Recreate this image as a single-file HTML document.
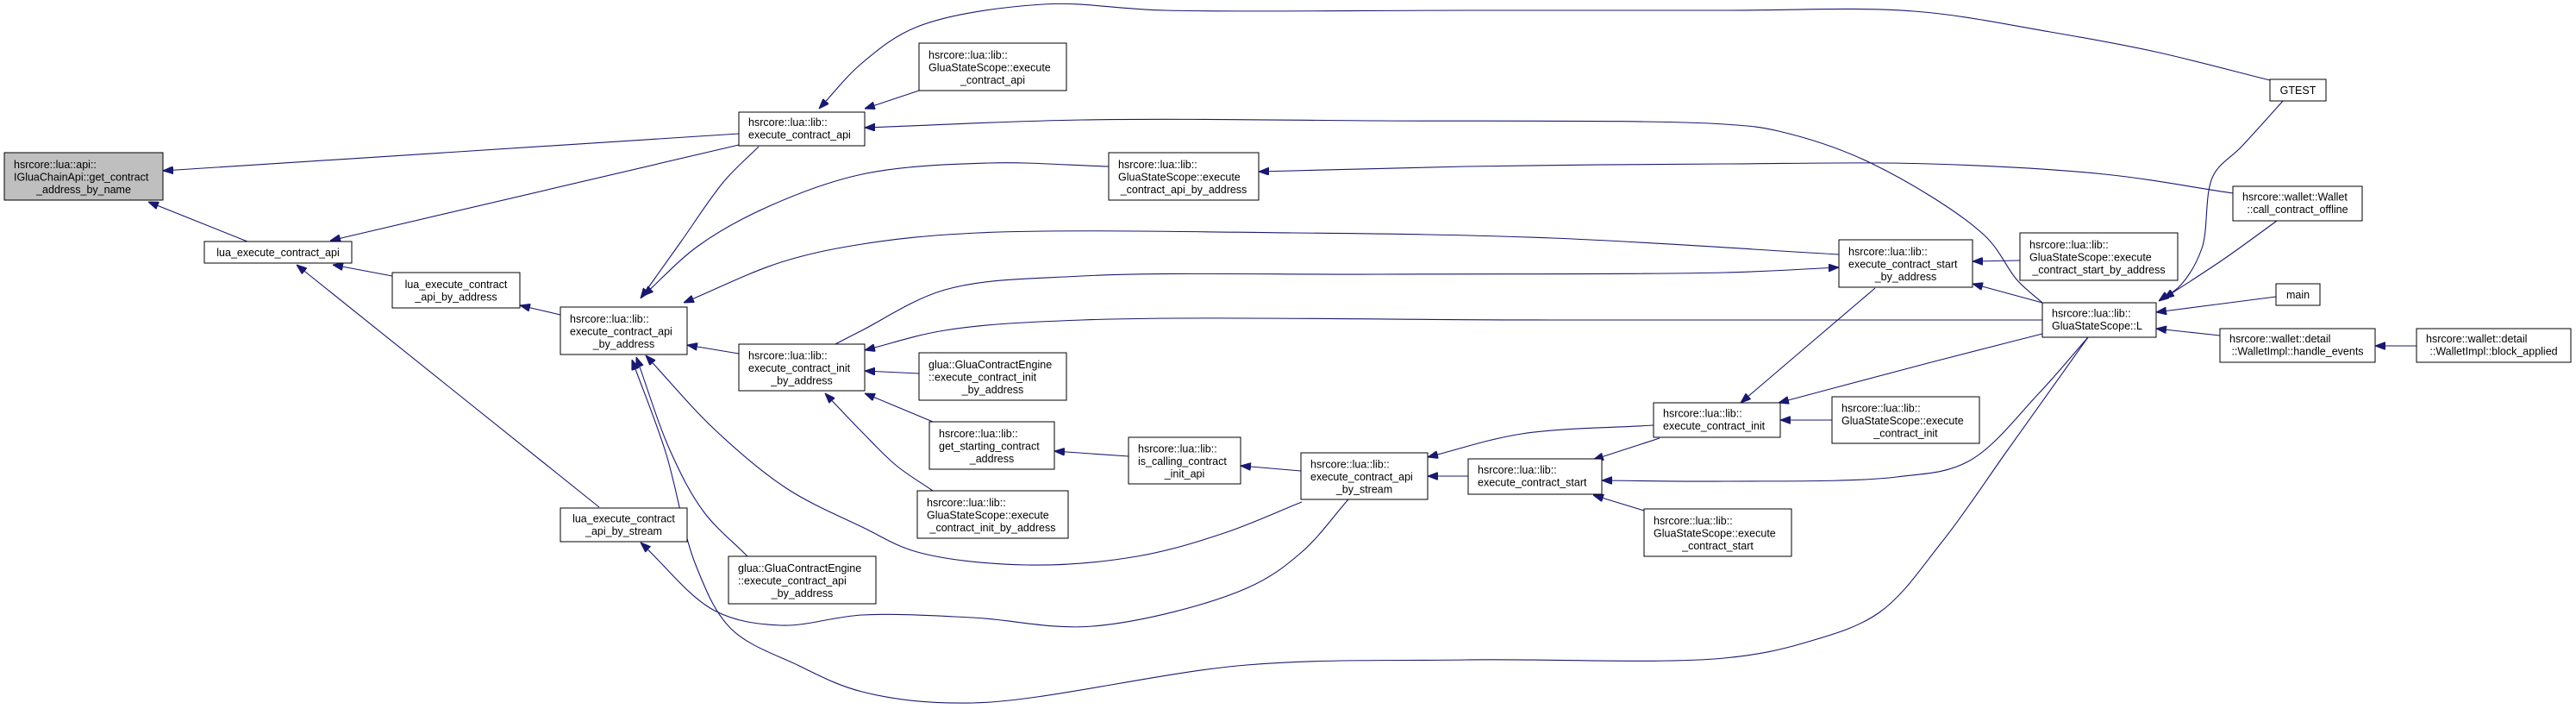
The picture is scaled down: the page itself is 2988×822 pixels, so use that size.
<!DOCTYPE html>
<html><head><meta charset="utf-8"><style>
html,body{margin:0;padding:0;background:#fff;}
svg{display:block}
text{font-family:"Liberation Sans",Arial,sans-serif;font-size:12.5px;fill:#000}
.n{fill:#fff;stroke:#000;stroke-width:1}
.e{fill:none;stroke:#191970;stroke-width:1.1}
</style></head><body>
<svg id="s" width="2988" height="822" viewBox="0 0 2988 822" xmlns="http://www.w3.org/2000/svg">
<defs><marker id="a" markerUnits="userSpaceOnUse" markerWidth="12" markerHeight="9" refX="12" refY="4.5" orient="auto"><path d="M0,0 L12,4.5 L0,9 z" fill="#191970" stroke="#191970"/></marker></defs>
<g id="edges"></g>
<g>
<rect class="n" x="5" y="177" width="184" height="55" style="fill:#bfbfbf"/>
<text x="16" y="195">hsrcore::lua::api::</text><text x="16" y="209.5">IGluaChainApi::get_contract</text><text x="97" y="224" text-anchor="middle">_address_by_name</text>

<rect class="n" x="237" y="280" width="171" height="25"/>
<text x="322.5" y="297" text-anchor="middle">lua_execute_contract_api</text>

<rect class="n" x="455" y="316" width="148" height="41"/>
<text x="529" y="334" text-anchor="middle">lua_execute_contract</text><text x="529" y="348.5" text-anchor="middle">_api_by_address</text>

<rect class="n" x="650" y="356" width="147" height="55"/>
<text x="661" y="374">hsrcore::lua::lib::</text><text x="661" y="388.5">execute_contract_api</text><text x="723.5" y="403" text-anchor="middle">_by_address</text>

<rect class="n" x="857" y="130" width="146" height="39"/>
<text x="868" y="146">hsrcore::lua::lib::</text><text x="868" y="160.5">execute_contract_api</text>

<rect class="n" x="650" y="589" width="147" height="39"/>
<text x="723.5" y="605.5" text-anchor="middle">lua_execute_contract</text><text x="723.5" y="620" text-anchor="middle">_api_by_stream</text>

<rect class="n" x="857" y="399" width="146" height="54"/>
<text x="868" y="416.5">hsrcore::lua::lib::</text><text x="868" y="431">execute_contract_init</text><text x="930" y="445.5" text-anchor="middle">_by_address</text>

<rect class="n" x="845" y="645" width="171" height="55"/>
<text x="856" y="663">glua::GluaContractEngine</text><text x="856" y="677.5">::execute_contract_api</text><text x="930.5" y="692" text-anchor="middle">_by_address</text>

<rect class="n" x="1066" y="50" width="171" height="55"/>
<text x="1077" y="68">hsrcore::lua::lib::</text><text x="1077" y="82.5">GluaStateScope::execute</text><text x="1151.5" y="97" text-anchor="middle">_contract_api</text>

<rect class="n" x="1286" y="177" width="174" height="55"/>
<text x="1297" y="195">hsrcore::lua::lib::</text><text x="1297" y="209.5">GluaStateScope::execute</text><text x="1373" y="224" text-anchor="middle">_contract_api_by_address</text>

<rect class="n" x="1066" y="409" width="171" height="55"/>
<text x="1077" y="427">glua::GluaContractEngine</text><text x="1077" y="441.5">::execute_contract_init</text><text x="1151.5" y="456" text-anchor="middle">_by_address</text>

<rect class="n" x="1078" y="489" width="145" height="55"/>
<text x="1089" y="507">hsrcore::lua::lib::</text><text x="1089" y="521.5">get_starting_contract</text><text x="1150.5" y="536" text-anchor="middle">_address</text>

<rect class="n" x="1064" y="569" width="175" height="55"/>
<text x="1075" y="587">hsrcore::lua::lib::</text><text x="1075" y="601.5">GluaStateScope::execute</text><text x="1151.5" y="616" text-anchor="middle">_contract_init_by_address</text>

<rect class="n" x="1309" y="507" width="130" height="54"/>
<text x="1320" y="524.5">hsrcore::lua::lib::</text><text x="1320" y="539">is_calling_contract</text><text x="1374" y="553.5" text-anchor="middle">_init_api</text>

<rect class="n" x="1509" y="525" width="147" height="54"/>
<text x="1520" y="542.5">hsrcore::lua::lib::</text><text x="1520" y="557">execute_contract_api</text><text x="1582.5" y="571.5" text-anchor="middle">_by_stream</text>

<rect class="n" x="1703" y="532" width="155" height="41"/>
<text x="1714" y="549">hsrcore::lua::lib::</text><text x="1714" y="563.5">execute_contract_start</text>

<rect class="n" x="1918" y="467" width="147" height="40"/>
<text x="1929" y="483.5">hsrcore::lua::lib::</text><text x="1929" y="498">execute_contract_init</text>

<rect class="n" x="1907" y="590" width="171" height="55"/>
<text x="1918" y="608">hsrcore::lua::lib::</text><text x="1918" y="622.5">GluaStateScope::execute</text><text x="1992.5" y="637" text-anchor="middle">_contract_start</text>

<rect class="n" x="2125" y="460" width="171" height="54"/>
<text x="2136" y="477.5">hsrcore::lua::lib::</text><text x="2136" y="492">GluaStateScope::execute</text><text x="2210.5" y="506.5" text-anchor="middle">_contract_init</text>

<rect class="n" x="2133" y="278" width="155" height="55"/>
<text x="2144" y="296">hsrcore::lua::lib::</text><text x="2144" y="310.5">execute_contract_start</text><text x="2210.5" y="325" text-anchor="middle">_by_address</text>

<rect class="n" x="2343" y="270" width="183" height="55"/>
<text x="2354" y="288">hsrcore::lua::lib::</text><text x="2354" y="302.5">GluaStateScope::execute</text><text x="2434.5" y="317" text-anchor="middle">_contract_start_by_address</text>

<rect class="n" x="2369" y="351" width="132" height="40"/>
<text x="2380" y="367.5">hsrcore::lua::lib::</text><text x="2380" y="382">GluaStateScope::L</text>

<rect class="n" x="2633" y="92" width="65" height="25"/>
<text x="2665.5" y="109" text-anchor="middle">GTEST</text>

<rect class="n" x="2590" y="216" width="150" height="40"/>
<text x="2601" y="232.5">hsrcore::wallet::Wallet</text><text x="2665" y="247" text-anchor="middle">::call_contract_offline</text>

<rect class="n" x="2640" y="329" width="51" height="25"/>
<text x="2665.5" y="346" text-anchor="middle">main</text>

<rect class="n" x="2575" y="381" width="180" height="39"/>
<text x="2586" y="397">hsrcore::wallet::detail</text><text x="2665" y="411.5" text-anchor="middle">::WalletImpl::handle_events</text>

<rect class="n" x="2803" y="381" width="179" height="39"/>
<text x="2814" y="397">hsrcore::wallet::detail</text><text x="2892.5" y="411.5" text-anchor="middle">::WalletImpl::block_applied</text>
</g>
</svg>
<script>
var E=[
[[857,155],[189,198]],
[[857,168],[383,279]],
[[287,280],[172,234]],
[[455,320],[386,307]],
[[695,588],[344,307]],
[[650,365],[603,354]],
[[880,170],[840,210],[790,280],[743,346]],
[[1286,193],[1147,189],[1000,202],[890,240],[810,285],[746,343]],
[[2133,295],[1800,276],[1500,270],[1134,270],[1000,283],[906,304],[793,351]],
[[857,410],[797,400]],
[[867,645],[816,593],[778,524],[738,414]],
[[2422,391],[2330,520],[2252,629],[2180,710],[2094,745],[2000,763],[1700,765],[1446,771],[1128,815],[1000,802],[925,771],[848,729],[807,655],[772,524],[733,417]],
[[1510,582],[1420,618],[1319,645],[1191,655],[1064,640],[1000,611],[912,566],[829,498],[749,412]],
[[1564,579],[1510,640],[1446,682],[1268,726],[1128,716],[1000,713],[906,725],[829,708],[743,629]],
[[2633,93],[2500,60],[2378,37],[2220,13],[2000,12],[1700,12],[1351,12],[1210,5],[1064,31],[1000,73],[950,126]],
[[1066,105],[1003,126]],
[[2369,351],[2340,325],[2302,273],[2170,189],[2063,152],[2000,144],[1600,140],[1255,139],[1003,148]],
[[2590,224],[2441,202],[2239,190],[2000,190],[1700,193],[1460,199]],
[[969,399],[1000,383],[1096,336],[1255,320],[1600,318],[2000,316],[2133,310]],
[[2369,371],[1800,371],[1255,371],[1096,383],[1003,406]],
[[1066,433],[1003,430]],
[[1082,489],[1003,456]],
[[1082,569],[1040,540],[1000,501],[957,456]],
[[1309,529],[1223,523]],
[[1509,546],[1439,540]],
[[1918,493],[1765,503],[1656,530]],
[[1703,552],[1656,552]],
[[1925,508],[1848,533]],
[[2422,391],[2365,456],[2283,535],[2200,553],[2000,558],[1858,557]],
[[1907,592],[1848,574]],
[[2175,334],[2019,467]],
[[2369,387],[2240,420],[2063,467]],
[[2125,487],[2065,487]],
[[2343,302],[2288,303]],
[[2369,351],[2288,329]],
[[2649,116],[2600,170],[2567,204],[2554,288],[2530,330],[2504,349]],
[[2641,256],[2580,300],[2510,346]],
[[2640,344],[2501,362]],
[[2575,389],[2501,381]],
[[2803,401],[2755,401]]
];
var g=document.getElementById('edges'),ns='http://www.w3.org/2000/svg';
function dist(a,b){return Math.pow(Math.hypot(a[0]-b[0],a[1]-b[1]),0.5);}
E.forEach(function(p){
 var d='M'+p[0][0]+','+p[0][1];
 for(var i=0;i<p.length-1;i++){
  var P1=p[i],P2=p[i+1],P0=p[i-1],P3=p[i+2];
  var d2=dist(P1,P2),c1,c2;
  if(!P0){c1=[P1[0]+(P2[0]-P1[0])/3,P1[1]+(P2[1]-P1[1])/3];}
  else{var d1=dist(P0,P1);var k=3*d1*(d1+d2);
   c1=[(d1*d1*P2[0]-d2*d2*P0[0]+(2*d1*d1+3*d1*d2+d2*d2)*P1[0])/k,(d1*d1*P2[1]-d2*d2*P0[1]+(2*d1*d1+3*d1*d2+d2*d2)*P1[1])/k];}
  if(!P3){c2=[P2[0]-(P2[0]-P1[0])/3,P2[1]-(P2[1]-P1[1])/3];}
  else{var d3=dist(P2,P3);var m=3*d3*(d3+d2);
   c2=[(d3*d3*P1[0]-d2*d2*P3[0]+(2*d3*d3+3*d3*d2+d2*d2)*P2[0])/m,(d3*d3*P1[1]-d2*d2*P3[1]+(2*d3*d3+3*d3*d2+d2*d2)*P2[1])/m];}
  d+=' C'+c1[0].toFixed(1)+','+c1[1].toFixed(1)+' '+c2[0].toFixed(1)+','+c2[1].toFixed(1)+' '+P2[0]+','+P2[1];
 }
 var el=document.createElementNS(ns,'path');el.setAttribute('d',d);el.setAttribute('class','e');el.setAttribute('marker-end','url(#a)');g.appendChild(el);
});
</script>
</body></html>
